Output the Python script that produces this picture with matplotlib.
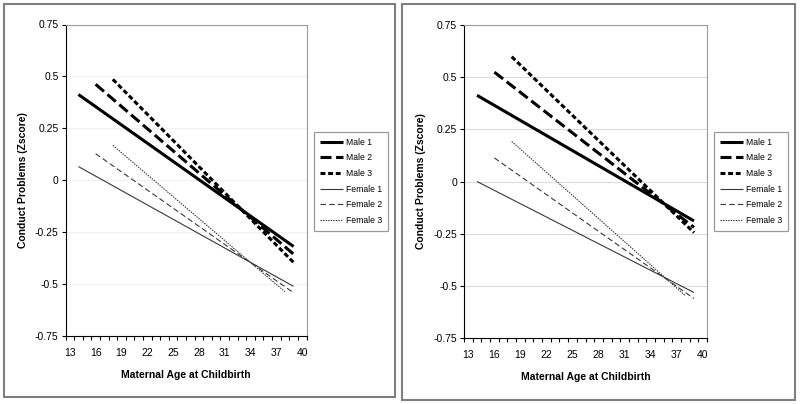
import matplotlib
matplotlib.use("Agg")
import matplotlib.pyplot as plt
from matplotlib.patches import Rectangle

plt.rcParams['font.family'] = ['Liberation Sans', 'DejaVu Sans']

# x ranges of the lines (start, end)
x_m1 = [14, 39]
x_m2 = [16, 39]
x_m3 = [18, 39]
x_f1 = [14, 39]
x_f2 = [16, 39]
x_f3 = [18, 38]

# left panel values
left_m1 = [0.413, -0.319]
left_m2 = [0.462, -0.356]
left_m3 = [0.486, -0.396]
left_f1 = [0.066, -0.511]
left_f2 = [0.128, -0.542]
left_f3 = [0.168, -0.537]

# right panel values
right_m1 = [0.413, -0.189]
right_m2 = [0.524, -0.220]
right_m3 = [0.598, -0.245]
right_f1 = [0.000, -0.532]
right_f2 = [0.113, -0.561]
right_f3 = [0.192, -0.547]

labels = ['Male 1', 'Male 2', 'Male 3', 'Female 1', 'Female 2', 'Female 3']
yticks = [-0.75, -0.5, -0.25, 0, 0.25, 0.5, 0.75]
ytick_labels = ['-0.75', '-0.5', '-0.25', '0', '0.25', '0.5', '0.75']
xticks = list(range(13, 41, 3))

W, H = 800, 404
fig = plt.figure(figsize=(W / 100, H / 100), dpi=100)


def px(x0, y0, x1, y1):
    # pixel box (top-left origin) -> figure fraction rect
    return [x0 / W, 1 - y1 / H, (x1 - x0) / W, (y1 - y0) / H]


def panel(rect, ys, legend_xy, grid_color):
    ax = fig.add_axes(rect)
    xs = [x_m1, x_m2, x_m3, x_f1, x_f2, x_f3]
    styles = [
        dict(lw=2.2, color='black', ls='-'),
        dict(lw=2.2, color='black', dashes=(3.6, 1.5)),
        dict(lw=2.2, color='black', dashes=(1.6, 0.9)),
        dict(lw=0.8, color='#383838', ls='-'),
        dict(lw=0.8, color='#383838', dashes=(5.0, 2.8)),
        dict(lw=0.8, color='#383838', dashes=(1.3, 1.0)),
    ]
    for x, y, lab, st in zip(xs, ys, labels, styles):
        ax.plot(x, y, label=lab, solid_capstyle='butt', dash_capstyle='butt', **st)

    ax.set_xlim(12.5, 40.5)
    ax.set_ylim(-0.75, 0.75)
    ax.set_yticks(yticks)
    ax.set_yticklabels(ytick_labels)
    ax.set_xticks(xticks)
    ax.set_xticks([v + 0.5 for v in range(12, 41)], minor=True)
    ax.tick_params(axis='x', which='major', length=0, pad=9, labelsize=7.5)
    ax.tick_params(axis='x', which='minor', length=3, width=0.8)
    ax.tick_params(axis='y', length=3, width=0.8, labelsize=7.5, pad=2)
    for y in yticks[1:-1]:
        ax.axhline(y, color=grid_color, lw=0.8, zorder=0)
    for s in ['top', 'right']:
        ax.spines[s].set_color('#9a9a9a')
    for s in ['left', 'bottom']:
        ax.spines[s].set_linewidth(0.8)
    ax.set_xlabel('Maternal Age at Childbirth', fontsize=7.5, fontweight='bold', labelpad=8)
    ax.set_ylabel('Conduct Problems (Zscore)', fontsize=7.5, fontweight='bold', labelpad=5)
    leg = ax.legend(loc='upper left', bbox_to_anchor=(legend_xy[0] / W, 1 - legend_xy[1] / H),
                    bbox_transform=fig.transFigure, borderaxespad=0, fontsize=6.2,
                    frameon=True, fancybox=False, edgecolor='#808080',
                    handlelength=2.7, handletextpad=0.35, labelspacing=0.78,
                    borderpad=0.65)
    leg.get_frame().set_linewidth(0.9)
    return ax


panel(px(65.5, 24.5, 306.5, 336), [left_m1, left_m2, left_m3, left_f1, left_f2, left_f3],
      (314, 132), '#f0f0f0')
panel(px(464, 25, 707, 338), [right_m1, right_m2, right_m3, right_f1, right_f2, right_f3],
      (714, 132), '#dcdcdc')

# outer frames round each panel
for x0, y0, x1, y1 in [(4, 4, 395, 397), (402, 4, 795, 400)]:
    fig.patches.append(Rectangle((x0 / W, 1 - y1 / H), (x1 - x0) / W, (y1 - y0) / H,
                                 transform=fig.transFigure, fill=False,
                                 edgecolor='#7f7f7f', lw=1.5))

fig.savefig('out.png', dpi=100)
